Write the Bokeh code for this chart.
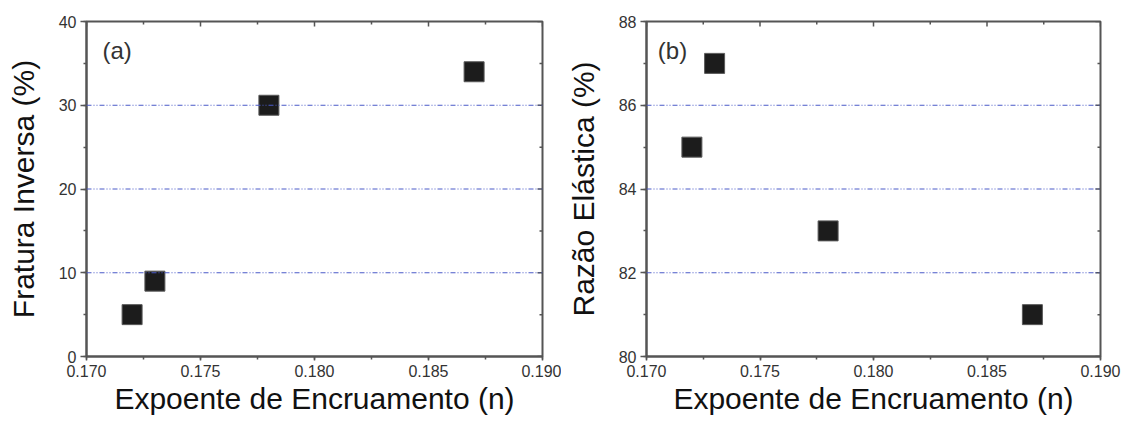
from bokeh.plotting import figure
from bokeh.models import Range1d, SingleIntervalTicker, Label, Span, PrintfTickFormatter
from bokeh.layouts import row
from bokeh.embed import file_html
from bokeh.resources import INLINE

# Strain-hardening exponent (n) of each sample
expoente_n = [0.172, 0.173, 0.178, 0.187]
# (a) reverse fracture, %
fratura_inversa = [5, 9, 30, 34]
# (b) elastic ratio, %
razao_elastica = [85, 87, 83, 81]

x_label = "Expoente de Encruamento (n)"
y_label_a = "Fratura Inversa (%)"
y_label_b = "Razão Elástica (%)"

FONT = "Liberation Sans"
AXIS_COLOR = "#555555"
TEXT_COLOR = "#333333"
GRID_COLOR = "#4a5ac8"

X_START, X_END, X_STEP = 0.170, 0.190, 0.005


def style_axis(ax, tick_out, minor_out):
    ax.axis_line_color = AXIS_COLOR
    ax.axis_line_width = 2
    ax.major_tick_line_color = AXIS_COLOR
    ax.minor_tick_line_color = AXIS_COLOR
    ax.major_tick_line_width = 1.5
    ax.minor_tick_line_width = 1.5
    ax.major_tick_out = tick_out
    ax.major_tick_in = 0
    ax.minor_tick_out = minor_out
    ax.minor_tick_in = 0
    ax.major_label_text_font = FONT
    ax.major_label_text_font_size = "16px"
    ax.major_label_text_color = TEXT_COLOR
    ax.axis_label_text_font = FONT
    ax.axis_label_text_font_size = "30px"
    ax.axis_label_text_font_style = "normal"
    ax.axis_label_text_color = "#111111"


def steps(start, end, step):
    n = int(round((end - start) / step))
    return [start + i * step for i in range(n + 1)]


def panel(ys, y_start, y_end, y_step, y_label, tag, tag_x, tag_y,
          border_left, border_right):
    p = figure(
        width=561, height=421,
        x_range=Range1d(X_START, X_END), y_range=Range1d(y_start, y_end),
        output_backend="svg", toolbar_location=None,
        min_border_left=border_left, min_border_right=border_right,
        min_border_top=21, min_border_bottom=65,
        background_fill_color="white", border_fill_color="white",
    )
    p.outline_line_color = AXIS_COLOR
    p.outline_line_width = 2

    x_ticker = SingleIntervalTicker(interval=X_STEP, num_minor_ticks=2)
    y_ticker = SingleIntervalTicker(interval=y_step, num_minor_ticks=2)

    xa = p.xaxis[0]
    xa.ticker = x_ticker
    xa.formatter = PrintfTickFormatter(format="%.3f")
    xa.axis_label = x_label
    style_axis(xa, 4, 3)
    xa.major_label_standoff = 4
    xa.axis_label_standoff = 2

    ya = p.yaxis[0]
    ya.ticker = y_ticker
    ya.axis_label = y_label
    style_axis(ya, 6, 3)
    ya.major_label_standoff = 4
    ya.axis_label_standoff = 16

    p.xgrid.visible = False
    p.ygrid.visible = False

    # dash-dot-dot reference lines at the inner major y ticks
    for gy in steps(y_start, y_end, y_step)[1:-1]:
        p.add_layout(Span(location=gy, dimension="width",
                          line_color=GRID_COLOR, line_width=1,
                          line_dash="5 2 1 2 1 2"))

    # inward tick marks along the top and right frame edges
    fw = 561 - border_left - border_right
    fh = 421 - 21 - 65
    dx = (X_END - X_START) / fw
    dy = (y_end - y_start) / fh
    xt = steps(X_START, X_END, X_STEP / 2)
    yt = steps(y_start, y_end, y_step / 2)
    x_len = [5 if i % 2 == 0 else 3 for i in range(len(xt))]
    y_len = [5 if i % 2 == 0 else 3 for i in range(len(yt))]
    p.segment(x0=xt, y0=[y_end] * len(xt), x1=xt,
              y1=[y_end - l * dy for l in x_len],
              line_color=AXIS_COLOR, line_width=1.5)
    p.segment(x0=[X_END] * len(yt), y0=yt,
              x1=[X_END - l * dx for l in y_len], y1=yt,
              line_color=AXIS_COLOR, line_width=1.5)

    p.scatter(expoente_n, ys, marker="square", size=20,
              fill_color="#1c1c1c", line_color="#5a5a5a", line_width=1)

    p.add_layout(Label(x=tag_x, y=tag_y, text=tag, text_font=FONT,
                       text_font_size="24px", text_color=TEXT_COLOR,
                       text_baseline="middle", text_align="left"))
    return p


pa = panel(fratura_inversa, 0, 40, 10, y_label_a, "(a)", 0.1707, 36.5, 86, 19)
pb = panel(razao_elastica, 80, 88, 2, y_label_b, "(b)", 0.1705, 87.3, 85, 22)

layout = row(pa, pb)
open("out.html", "w").write(file_html(layout, INLINE))
